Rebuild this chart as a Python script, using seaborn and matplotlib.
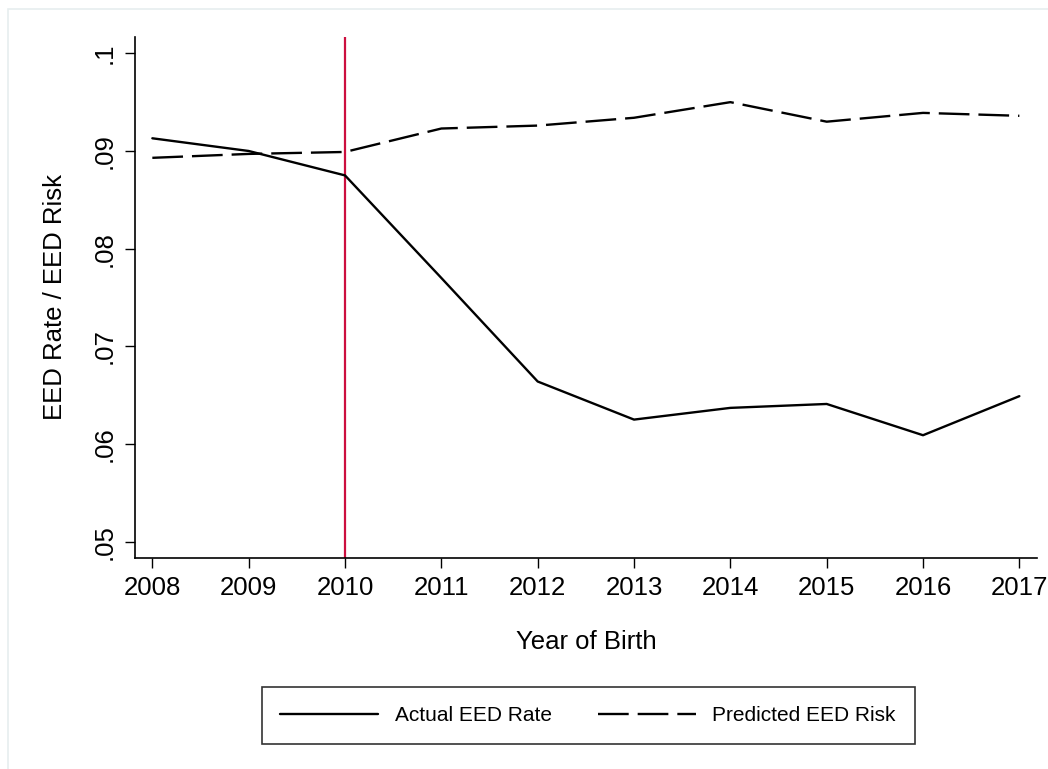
import matplotlib
matplotlib.use("Agg")
import matplotlib.pyplot as plt
import seaborn as sns
import pandas as pd
from matplotlib.patches import Rectangle

years = [2008, 2009, 2010, 2011, 2012, 2013, 2014, 2015, 2016, 2017]
actual_rate = [0.0913, 0.0900, 0.0875, 0.0770, 0.0664, 0.0625, 0.0637, 0.0641, 0.0609, 0.0649]
predicted_risk = [0.0893, 0.0897, 0.0899, 0.0923, 0.0926, 0.0934, 0.0950, 0.0930, 0.0939, 0.0936]
series_names = ["Actual EED Rate", "Predicted EED Risk"]
y_ticks = [0.05, 0.06, 0.07, 0.08, 0.09, 0.10]
y_tick_labels = [".05", ".06", ".07", ".08", ".09", ".1"]
cutoff_year = 2010

df = pd.DataFrame({
    "year": years * 2,
    "value": actual_rate + predicted_risk,
    "series": [series_names[0]] * len(years) + [series_names[1]] * len(years),
})

sns.set_theme(style="white")
plt.rcParams["font.family"] = ["Liberation Sans", "DejaVu Sans"]
plt.rcParams["text.color"] = "black"

fig = plt.figure(figsize=(10.48, 7.69), dpi=100)
fig.patch.set_facecolor("white")
# faint outer graph-region border
fig.patches.append(Rectangle((8 / 1048, -0.05), 1.2, 1 - 9 / 769 + 0.05,
                             transform=fig.transFigure, fill=False,
                             edgecolor="#e6eeef", linewidth=1.2, zorder=0))

ax = fig.add_axes([135 / 1048, 1 - 558.3 / 769, (1036.7 - 135) / 1048, (558.3 - 36.7) / 769])
ax.set_facecolor("white")

sns.lineplot(data=df, x="year", y="value", style="series",
             dashes={series_names[0]: "", series_names[1]: (13, 3.8)},
             color="black", linewidth=1.7, legend=False, ax=ax)

ax.axvline(cutoff_year, color="#cc0f3f", linewidth=1.6, zorder=1)

ax.set_xlim(2007.82, 2017.18)
ax.set_ylim(0.0483, 0.1017)
ax.set_xticks(years)
ax.set_xticklabels([str(y) for y in years])
ax.set_yticks(y_ticks)
ax.set_yticklabels(y_tick_labels, rotation=90, va="center")

for s in ["top", "right"]:
    ax.spines[s].set_visible(False)
for s in ["left", "bottom"]:
    ax.spines[s].set_color("black")
    ax.spines[s].set_linewidth(1.2)

ax.tick_params(axis="both", which="major", direction="out", length=7.5, width=1.0,
               color="black", labelsize=18.5, labelcolor="black", left=True, bottom=True)
ax.tick_params(axis="x", pad=5)
ax.tick_params(axis="y", pad=6)

ax.set_xlabel("Year of Birth", fontsize=18.5, labelpad=22, color="black")
ax.set_ylabel("EED Rate / EED Risk", fontsize=18.5, labelpad=18, color="black")

handles = ax.get_lines()[:2]
leg = fig.legend(handles, series_names, loc="center", bbox_to_anchor=(588 / 1048, 1 - 715.5 / 769),
                 ncol=2, fontsize=15, frameon=True, fancybox=False, handlelength=4.7,
                 handletextpad=0.8, columnspacing=2.2, borderpad=0.9, borderaxespad=0,
                 labelcolor="black")
leg.get_frame().set_edgecolor("black")
leg.get_frame().set_linewidth(1.2)
leg.get_frame().set_facecolor("white")

fig.savefig("out.png", dpi=100)
